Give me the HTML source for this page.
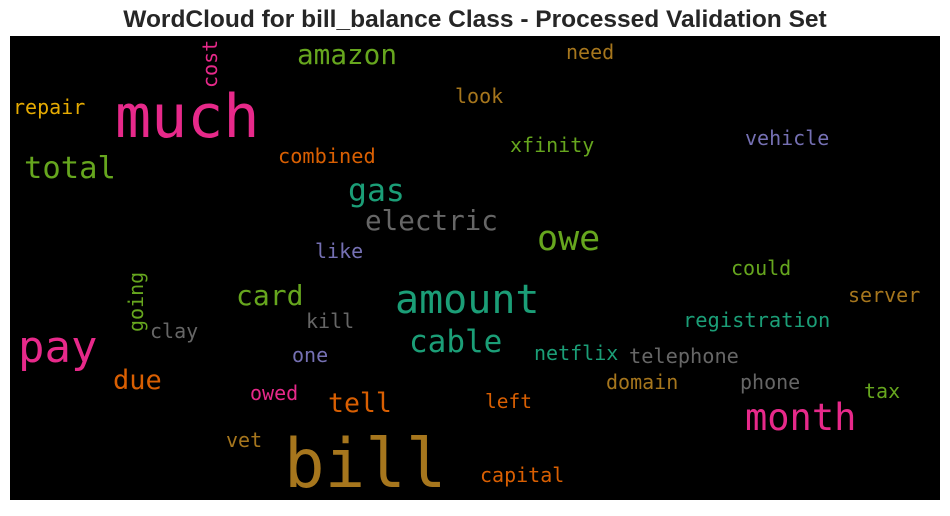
<!DOCTYPE html>
<html><head><meta charset="utf-8"><style>
body{margin:0;background:#fff;width:950px;height:511px;overflow:hidden}
svg text.w{font-family:"DejaVu Sans Mono","Liberation Mono",monospace}
</style></head><body>
<svg width="950" height="511">
<text x="475" y="27" text-anchor="middle" font-family="Liberation Sans, sans-serif" font-weight="bold" font-size="24.5" fill="#262626">WordCloud for bill_balance Class - Processed Validation Set</text>
<rect x="10" y="36" width="930" height="464" fill="#000"/>
<g id="words"></g>
</svg>
<script>
const words=["much","bill","pay","amount","month","total","owe","cable","gas","electric","amazon","card","due","tell","registration","telephone","netflix","domain","phone","tax","left","capital","could","server","vet","owed","one","kill","clay","going","cost","like","combined","xfinity","vehicle","look","need","repair"];
const sizes=[60,67.5,44,40,37,30.5,35,31,31.5,27.6,27.7,28,27,26.5,20.4,20.3,20,20,20,20,19.5,20,20,20,20,20,20,20,20,20,20,20,20.3,20,20,20,20,20];
const xs=[115,284,18,395,745,24,537,409,348,365,297,236,113,328,683,629,534,606,740,864,485,480,731,848,226,250,292,306,150,143,217,315,278,510,745,455,566,13];
const ys=[137,487,362,313,430,178,250,352,201,230,64,305,389,412,327,363,360,389,389,398,408,482,275,302,447,400,362,328,338,332,88,258,163,152,145,103,59,114];
const colors=["#e7298a","#a6761d","#e7298a","#1b9e77","#e7298a","#66a61e","#66a61e","#1b9e77","#1b9e77","#666666","#66a61e","#66a61e","#d95f02","#d95f02","#1b9e77","#666666","#1b9e77","#a6761d","#666666","#66a61e","#d95f02","#d95f02","#66a61e","#a6761d","#a6761d","#e7298a","#7570b3","#666666","#666666","#66a61e","#e7298a","#7570b3","#d95f02","#66a61e","#7570b3","#a6761d","#a6761d","#e6ab02"];
const rotated=["going","cost"];
const g=document.getElementById('words');
words.forEach((w,i)=>{
  const t=document.createElementNS('http://www.w3.org/2000/svg','text');
  t.setAttribute('class','w');
  t.setAttribute('x',xs[i]);t.setAttribute('y',ys[i]);
  t.setAttribute('font-size',sizes[i]);t.setAttribute('fill',colors[i]);
  if(rotated.includes(w))t.setAttribute('transform','rotate(-90 '+xs[i]+' '+ys[i]+')');
  t.textContent=w;
  
  
  g.appendChild(t);
});
</script>
</body></html>
